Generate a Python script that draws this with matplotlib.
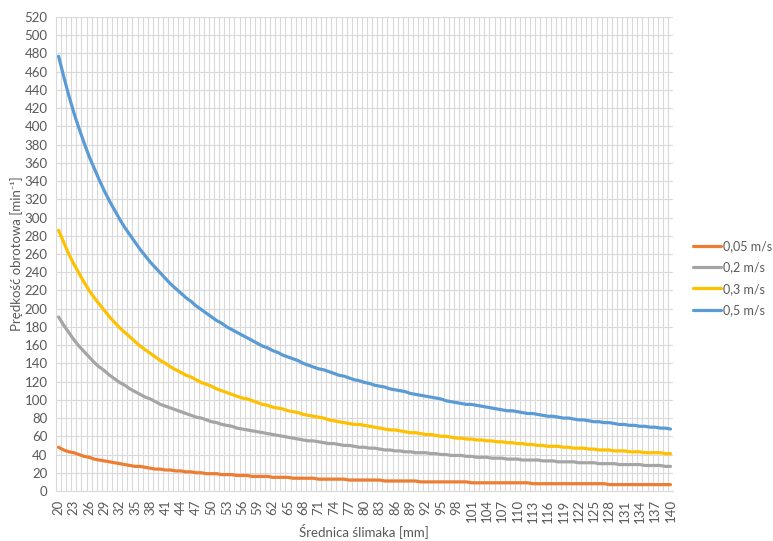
import matplotlib
matplotlib.use("Agg")
import matplotlib.pyplot as plt
from matplotlib.ticker import MultipleLocator, FixedLocator

plt.rcParams['font.family'] = ['Lato', 'DejaVu Sans']

# średnica ślimaka [mm]
diam = list(range(20, 141))

v05 = [477, 455, 434, 415, 398, 382, 367, 354, 341, 329, 318, 308, 298, 289, 281, 273,
       265, 258, 251, 245, 239, 233, 227, 222, 217, 212, 208, 203, 199, 195, 191, 187,
       184, 180, 177, 174, 171, 168, 165, 162, 159, 157, 154, 152, 149, 147, 145, 143,
       140, 138, 136, 134, 133, 131, 129, 127, 126, 124, 122, 121, 119, 118, 116, 115,
       114, 112, 111, 110, 109, 107, 106, 105, 104, 103, 102, 101, 99, 98, 97, 96,
       95, 95, 94, 93, 92, 91, 90, 89, 88, 88, 87, 86, 85, 85, 84, 83,
       82, 82, 81, 80, 80, 79, 78, 78, 77, 76, 76, 75, 75, 74, 73, 73,
       72, 72, 71, 71, 70, 70, 69, 69, 68]
v03 = [286, 273, 260, 249, 239, 229, 220, 212, 205, 198, 191, 185, 179, 174, 169, 164,
       159, 155, 151, 147, 143, 140, 136, 133, 130, 127, 125, 122, 119, 117, 115, 112,
       110, 108, 106, 104, 102, 101, 99, 97, 95, 94, 92, 91, 90, 88, 87, 86,
       84, 83, 82, 81, 80, 78, 77, 76, 75, 74, 73, 73, 72, 71, 70, 69,
       68, 67, 67, 66, 65, 64, 64, 63, 62, 62, 61, 60, 60, 59, 58, 58,
       57, 57, 56, 56, 55, 55, 54, 54, 53, 53, 52, 52, 51, 51, 50, 50,
       49, 49, 49, 48, 48, 47, 47, 47, 46, 46, 45, 45, 45, 44, 44, 44,
       43, 43, 43, 42, 42, 42, 42, 41, 41]
v02 = [191, 182, 174, 166, 159, 153, 147, 141, 136, 132, 127, 123, 119, 116, 112, 109,
       106, 103, 101, 98, 95, 93, 91, 89, 87, 85, 83, 81, 80, 78, 76, 75,
       73, 72, 71, 69, 68, 67, 66, 65, 64, 63, 62, 61, 60, 59, 58, 57,
       56, 55, 55, 54, 53, 52, 52, 51, 50, 50, 49, 48, 48, 47, 47, 46,
       45, 45, 44, 44, 43, 43, 42, 42, 42, 41, 41, 40, 40, 39, 39, 39,
       38, 38, 37, 37, 37, 36, 36, 36, 35, 35, 35, 34, 34, 34, 34, 33,
       33, 33, 32, 32, 32, 32, 31, 31, 31, 31, 30, 30, 30, 30, 29, 29,
       29, 29, 29, 28, 28, 28, 28, 27, 27]
v005 = [48, 45, 43, 42, 40, 38, 37, 35, 34, 33, 32, 31, 30, 29, 28, 27,
        27, 26, 25, 24, 24, 23, 23, 22, 22, 21, 21, 20, 20, 19, 19, 19,
        18, 18, 18, 17, 17, 17, 16, 16, 16, 16, 15, 15, 15, 15, 14, 14,
        14, 14, 14, 13, 13, 13, 13, 13, 13, 12, 12, 12, 12, 12, 12, 12,
        11, 11, 11, 11, 11, 11, 11, 10, 10, 10, 10, 10, 10, 10, 10, 10,
        10, 9, 9, 9, 9, 9, 9, 9, 9, 9, 9, 9, 9, 8, 8, 8,
        8, 8, 8, 8, 8, 8, 8, 8, 8, 8, 8, 8, 7, 7, 7, 7,
        7, 7, 7, 7, 7, 7, 7, 7, 7]

series = [("0,05 m/s", v005, "#ED7D31"),
          ("0,2 m/s", v02, "#A5A5A5"),
          ("0,3 m/s", v03, "#FFC000"),
          ("0,5 m/s", v05, "#5B9BD5")]

fig = plt.figure(figsize=(7.73, 5.41), dpi=100)
ax = fig.add_axes([56 / 773, 1 - 491 / 541, 617 / 773, 474 / 541])

for name, vals, col in series:
    ax.plot(diam, vals, color=col, lw=2.3, label=name, solid_capstyle='round')

ax.set_xlim(diam[0] - 0.5, diam[-1] + 0.5)
ax.set_ylim(0, 520)
ax.yaxis.set_major_locator(MultipleLocator(20))
ax.set_xticks(diam[::3])
ax.xaxis.set_minor_locator(FixedLocator([d + 0.5 for d in diam[:-1]]))
ax.grid(True, which='minor', axis='x', color='#D9D9D9', lw=0.8)
ax.grid(True, which='major', axis='y', color='#D9D9D9', lw=0.8)
ax.set_axisbelow(True)

for s in ['top', 'right']:
    ax.spines[s].set_visible(False)
ax.spines['left'].set_color('#D9D9D9')
ax.spines['bottom'].set_color('#D9D9D9')
ax.tick_params(axis='both', which='both', length=0, colors='#595959', labelsize=9.5)
ax.tick_params(axis='y', pad=6)
ax.tick_params(axis='x', labelrotation=90, pad=6)

fig.text(364 / 773, 1 - 531 / 541, "Średnica ślimaka [mm]", color='#595959',
         fontsize=9.5, ha='center', va='center')
ax.set_ylabel("Prędkość obrotowa [min⁻¹]", color='#595959', fontsize=9.5)
ax.yaxis.set_label_coords((23 - 56) / 617, 0.5)

leg = ax.legend(loc='center left', bbox_to_anchor=(637 / 617, 0.449),
                frameon=False, fontsize=9, handlelength=2.2, labelspacing=0.75,
                handletextpad=0.2, labelcolor='#595959', borderaxespad=0,
                borderpad=0)

fig.savefig("out.png", dpi=100)
